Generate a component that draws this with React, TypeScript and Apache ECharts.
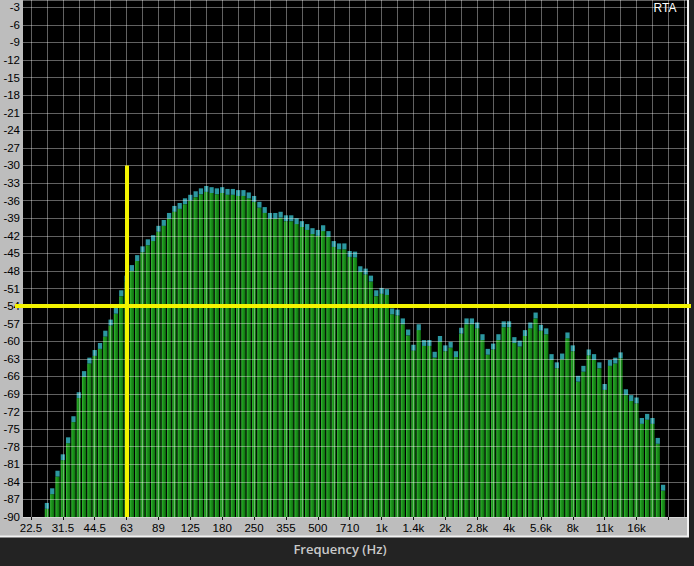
import React, { useEffect, useRef } from 'react';
import * as echarts from 'echarts';

// 1/12-octave RTA, one category per band; labels sit every 6 bands (half octave)
const tickLabels = ['22.5', '31.5', '44.5', '63', '89', '125', '180', '250', '355', '500',
  '710', '1k', '1.4k', '2k', '2.8k', '4k', '5.6k', '8k', '11k', '16k'];
const bandCount = 125;
const firstTickBand = 1;
const bandsPerTick = 6;
const bandsPerGrid = 3;
const firstBarBand = 4;

// bar tops in dB, from band 4 (first bar) to band 120 (last bar)
const levelsDb = [
  -87.6, -85.1, -82.1, -79.3, -76.4, -72.8, -68.7, -65.1, -62.8, -61.5,
  -60.3, -58.2, -56.3, -54.3, -51.3, -48.8, -47.0, -45.3, -43.8, -42.6,
  -41.9, -40.3, -39.3, -38.1, -36.9, -36.4, -35.6, -35.0, -34.4, -33.9,
  -33.5, -33.7, -33.9, -33.7, -34.0, -34.0, -34.2, -34.2, -34.6, -35.2,
  -36.2, -37.1, -38.1, -38.1, -37.9, -38.5, -38.5, -39.0, -39.5, -40.0,
  -40.7, -41.0, -40.2, -41.2, -42.9, -43.3, -43.3, -44.6, -44.7, -47.2,
  -47.6, -48.8, -51.3, -50.9, -51.1, -54.4, -54.6, -56.1, -58.0, -60.6,
  -57.1, -59.8, -59.8, -61.8, -59.1, -60.7, -60.1, -61.7, -57.7, -56.1,
  -56.1, -56.8, -58.8, -61.3, -60.4, -58.8, -56.6, -56.6, -59.3, -59.9,
  -58.1, -56.8, -55.1, -57.2, -57.8, -62.2, -63.6, -62.1, -58.5, -60.7,
  -65.9, -64.2, -61.4, -62.2, -63.6, -67.3, -63.2, -62.8, -61.9, -68.2,
  -69.2, -69.6, -73.1, -72.4, -73.1, -76.5, -84.5,
];

const dbMin = -90;
const dbMax = -1.75;
const dbStep = 3;
const peakCapDb = 1;

// yellow cursor lines
const cursorBand = 19; // 63 Hz
const cursorTopDb = -30;
const cursorLevelDb = -54;

const bandCategories = Array.from({ length: bandCount }, (_, i) =>
  (i - firstTickBand) % bandsPerTick === 0 ? tickLabels[(i - firstTickBand) / bandsPerTick] ?? '' : ''
);
const barData = levelsDb.map((v, i) => [firstBarBand + i, v]);

const isTickBand = (i: number) => (i - firstTickBand) % bandsPerTick === 0;
const isLabelBand = (i: number) => (i - firstTickBand) % bandsPerTick === 0;
const isGridBand = (i: number) => (i - firstTickBand) % bandsPerGrid === 0;

const barGreen = new echarts.graphic.LinearGradient(0, 0, 1, 0, [
  { offset: 0, color: '#3fb93f' },
  { offset: 0.3, color: '#1d9a1d' },
  { offset: 1, color: '#0f6e0f' },
]);

export default function App() {
  const ref = useRef<HTMLDivElement>(null);

  useEffect(() => {
    if (!ref.current) return;
    const chart = echarts.init(ref.current, undefined, { renderer: 'svg' });
    chart.setOption({
      animation: false,
      backgroundColor: '#232323',
      textStyle: { fontFamily: '"Liberation Sans", Arial, sans-serif' },
      grid: {
        left: 23, right: 7, top: 0, bottom: 49,
        show: true, backgroundColor: '#000', borderWidth: 0,
        containLabel: false, outerBoundsMode: 'none',
      },
      graphic: [
        {
          type: 'rect', z: -10, silent: true,
          shape: { x: 0, y: 0, width: 688, height: 536 },
          style: { fill: '#bdbdbd' },
        },
        {
          type: 'polyline', z: -9, silent: true,
          shape: { points: [[688, 0], [688, 536.5], [0, 536.5]] },
          style: { stroke: '#f2f2f2', lineWidth: 2, fill: null },
        },
        {
          type: 'text', z: 20, x: 665, y: 8, silent: true,
          style: {
            text: 'RTA', fill: '#ffffff', font: '12px "Liberation Sans"',
            textAlign: 'center', textVerticalAlign: 'middle', align: 'center', verticalAlign: 'middle',
          },
        },
        {
          type: 'text', z: 20, x: 340, y: 549, silent: true,
          style: {
            text: 'Frequency (Hz)', fill: '#c9c9c9', font: '600 13px "Open Sans"',
            textAlign: 'center', textVerticalAlign: 'middle', align: 'center', verticalAlign: 'middle',
          },
        },
      ],
      xAxis: {
        type: 'category',
        data: bandCategories,
        boundaryGap: true,
        z: 3,
        axisLine: { show: false, onZero: false },
        axisTick: {
          show: true, alignWithLabel: true, interval: isTickBand, length: 3,
          lineStyle: { color: '#111', width: 1 },
        },
        axisLabel: { interval: isLabelBand, color: '#000', fontSize: 11.5, margin: 5 },
        splitLine: {
          show: true, interval: isGridBand, alignWithLabel: true,
          lineStyle: { color: 'rgba(255,255,255,0.38)', width: 1 },
        },
      },
      yAxis: {
        type: 'value',
        min: dbMin, max: dbMax, interval: dbStep,
        z: 3,
        axisLine: { show: false },
        axisTick: { show: false },
        axisLabel: {
          color: '#000', fontSize: 11.5, margin: 3, showMaxLabel: false,
          formatter: (v: number) => (v % dbStep === 0 ? String(v) : ''),
        },
        splitLine: { show: true, lineStyle: { color: 'rgba(255,255,255,0.38)', width: 1 } },
      },
      series: [
        {
          type: 'custom',
          z: 2,
          data: barData,
          encode: { x: 0, y: 1 },
          renderItem: (params: any, api: any) => {
            const band = api.value(0);
            const level = api.value(1);
            const base = api.coord([band, dbMin]);
            const top = api.coord([band, level]);
            const capBottom = api.coord([band, level - peakCapDb]);
            const w = api.size([1, 0])[0] * 0.8;
            return {
              type: 'group',
              children: [
                {
                  type: 'rect',
                  shape: { x: base[0] - w / 2, y: capBottom[1], width: w, height: base[1] - capBottom[1] },
                  style: { fill: barGreen },
                },
                {
                  type: 'rect',
                  shape: { x: base[0] - w / 2, y: top[1], width: w, height: capBottom[1] - top[1] },
                  style: { fill: '#2c98a0' },
                },
              ],
            };
          },
          markLine: {
            silent: true,
            symbol: 'none',
            z: 10,
            animation: false,
            label: { show: false },
            emphasis: { disabled: true },
            lineStyle: { color: '#f4f400', width: 4, type: 'solid' },
            data: [
              [{ coord: [cursorBand, dbMin] }, { coord: [cursorBand, cursorTopDb] }],
              [{ x: 15, yAxis: cursorLevelDb }, { x: 691, yAxis: cursorLevelDb }],
            ],
          },
        },
      ],
    });
    return () => chart.dispose();
  }, []);

  return <div ref={ref} style={{ position: 'fixed', left: 0, top: 0, width: 694, height: 566 }} />;
}
